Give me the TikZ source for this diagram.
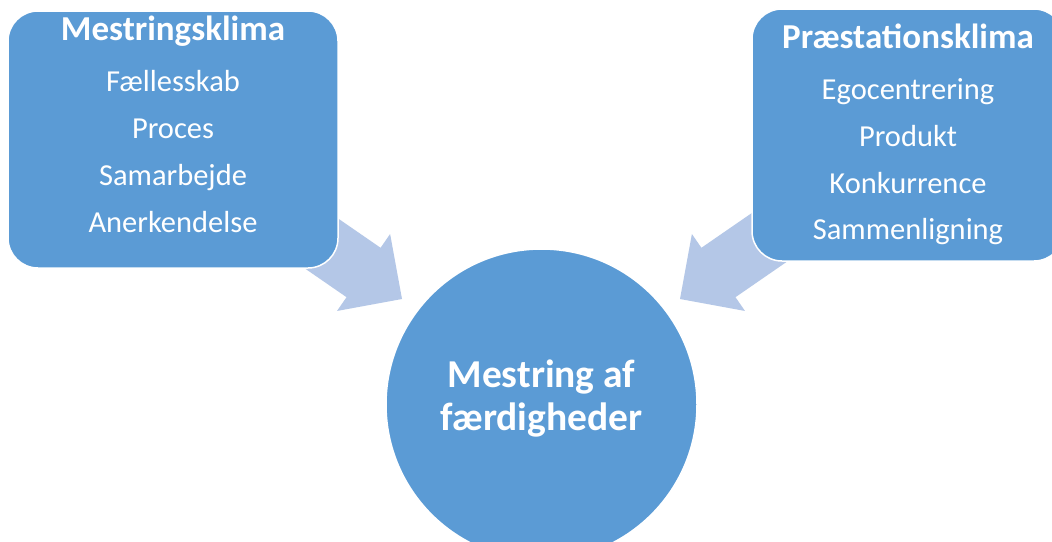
\documentclass[tikz,border=0pt]{standalone}
\usepackage{fontspec}
\setmainfont{Carlito}
\definecolor{boxblue}{HTML}{5B9BD5}
\definecolor{arrowblue}{HTML}{B4C7E7}
\begin{document}
\begin{tikzpicture}[x=1pt,y=-1pt,
  climatebox/.style={rectangle, rounded corners=30pt, fill=boxblue, draw=white, line width=1.5pt, inner sep=0pt},
  goalcircle/.style={circle, fill=boxblue, draw=white, line width=1.5pt, inner sep=0pt, minimum size=311pt},
  titletext/.style={anchor=base, text=white, inner sep=0pt, font=\fontsize{35}{42}\selectfont\bfseries},
  itemtext/.style={anchor=base, text=white, inner sep=0pt, font=\fontsize{30.5}{36}\selectfont},
  goaltext/.style={anchor=base, text=white, inner sep=0pt, font=\fontsize{39.5}{47}\selectfont\bfseries},
  blockarrow/.style={fill=arrowblue}]
\clip (0,0) rectangle (1052,541);
\fill[white] (0,0) rectangle (1052,541);
% arrows (drawn first, tails hidden under the boxes)
\coordinate (ltip) at (402,299);
\coordinate (rtip) at (680,299);
\begin{scope}[shift={(ltip)}, rotate=-34.6]
  \fill[blockarrow] (0,0) -- (-46.7,-46.75) -- (-46.7,-30) -- (-170,-30) -- (-170,30) -- (-46.7,30) -- (-46.7,46.75) -- cycle;
\end{scope}
\begin{scope}[shift={(rtip)}, rotate=-145.4]
  \fill[blockarrow] (0,0) -- (-46.7,-46.75) -- (-46.7,-30) -- (-170,-30) -- (-170,30) -- (-46.7,30) -- (-46.7,46.75) -- cycle;
\end{scope}
% boxes
\node[climatebox, minimum width=330pt, minimum height=257pt] (lbox) at (173,139.5) {};
\node[climatebox, minimum width=312pt, minimum height=252pt] (rbox) at (908,135) {};
\node[goalcircle] (goal) at (541.5,404.5) {};
% left texts
\node[titletext] (ltitle) at (173,40) {Mestringsklima};
\node[itemtext] (l1) at (173,91.7) {Fællesskab};
\node[itemtext] (l2) at (173,138.3) {Proces};
\node[itemtext] (l3) at (173,185) {Samarbejde};
\node[itemtext] (l4) at (173,232) {Anerkendelse};
% right texts
\node[titletext] (rtitle) at (908,48.3) {Præstationsklima};
\node[itemtext] (r1) at (908,99) {Egocentrering};
\node[itemtext] (r2) at (908,146.7) {Produkt};
\node[itemtext] (r3) at (908,193.3) {Konkurrence};
\node[itemtext] (r4) at (908,239.3) {Sammenligning};
% circle texts
\node[goaltext] (g1) at (541.5,387) {Mestring af};
\node[goaltext] (g2) at (541.5,430) {færdigheder};
\end{tikzpicture}
\end{document}
